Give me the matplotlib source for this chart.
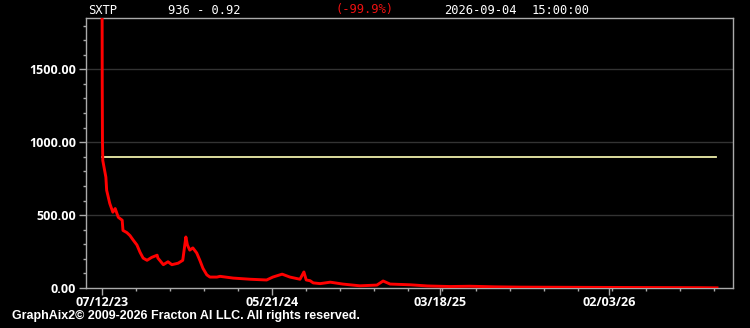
import matplotlib
matplotlib.use("Agg")
import matplotlib.pyplot as plt
from matplotlib.ticker import FixedLocator, MultipleLocator, FuncFormatter

# ---- data (x = trading-bar index from first bar) ----
bars = [0, 0.3, 0.6, 1, 5, 6, 10, 14, 17, 21, 26, 27, 32, 36, 40, 45, 49, 53, 58,
        64, 71, 72, 79, 85, 90, 98, 104, 108, 110, 113, 117, 122, 126, 130, 135,
        139, 148, 152, 169, 191, 212, 220, 232, 242, 255, 260, 263, 268, 272, 281,
        294, 310, 332, 354, 362, 371, 397, 419, 448, 474, 506, 538, 590, 641, 706,
        770, 792]
prices = [2400, 1400, 1010, 875, 760, 670, 580, 520, 545, 485, 465, 395, 380, 360,
          330, 295, 245, 205, 190, 210, 225, 205, 160, 180, 160, 170, 190, 350, 295,
          260, 275, 240, 190, 135, 90, 75, 75, 80, 68, 60, 55, 75, 95, 75, 60, 110,
          55, 50, 35, 30, 40, 27, 15, 20, 48, 27, 22, 14, 10, 12, 8, 6, 5, 4, 3, 2,
          0.92]
ref_level = 900
tick_bars = [0, 219, 435, 653]
tick_labels = ["07/12/23", "05/21/24", "03/18/25", "02/03/26"]
y_ticks = [0, 500, 1000, 1500]

W, H = 750, 328
fig = plt.figure(figsize=(W / 100, H / 100), dpi=100, facecolor="black")
ax = fig.add_axes([86 / W, (H - 288) / H, (733 - 86) / W, (288 - 18) / H])
ax.set_facecolor("black")

ax.set_xlim(-20.6, 812.6)
ax.set_ylim(0, 1852)

for y in y_ticks[1:]:
    ax.axhline(y, color="#333333", lw=1.0, zorder=1)

ax.plot([bars[0], bars[-1] - 1], [ref_level, ref_level], color="#eeeeaa", lw=1.3, zorder=2)
ax.plot(bars, prices, color="#ff0000", lw=2.1, zorder=3, solid_joinstyle="round")

for s in ax.spines.values():
    s.set_color("#aaaaaa")
    s.set_linewidth(1.0)

label_font = ["Open Sans", "DejaVu Sans"]
ax.yaxis.set_major_locator(FixedLocator(y_ticks))
ax.yaxis.set_minor_locator(MultipleLocator(100))
ax.yaxis.set_major_formatter(FuncFormatter(lambda v, p: f"{v:.2f}"))
ax.xaxis.set_major_locator(FixedLocator(tick_bars))
minor_step = (tick_bars[1] - tick_bars[0]) / 5
ax.xaxis.set_minor_locator(MultipleLocator(minor_step))
ax.set_xticklabels(tick_labels)
ax.tick_params(axis="both", which="major", colors="#aaaaaa", length=5, width=1,
               labelcolor="white", labelsize=9)
ax.tick_params(axis="both", which="minor", colors="#aaaaaa", length=2, width=1)
for lab in ax.get_xticklabels() + ax.get_yticklabels():
    lab.set_family(label_font)
    lab.set_fontweight("bold")
ax.tick_params(axis="x", pad=1)
ax.tick_params(axis="y", pad=2)

mono = ["DejaVu Sans Mono"]
ty = 1 - 10 / H
cw = 7.27
fig.text(88 / W, ty, "SXTP", color="white", fontsize=8.7, family=mono, va="center")
fig.text((88 + 11 * cw) / W, ty, "936 - 0.92", color="white", fontsize=8.7, family=mono, va="center")
fig.text((88 + 34 * cw) / W, ty, "(-99.9%)", color="#ee1111", fontsize=8.7, family=mono, va="center")
fig.text((88 + 49 * cw) / W, ty, "2026-09-04", color="white", fontsize=8.7, family=mono, va="center")
fig.text((88 + 61 * cw) / W, ty, "15:00:00", color="white", fontsize=8.7, family=mono, va="center")

fig.text(12 / W, 1 - 316 / H, "GraphAix2\u00a9 2009-2026 Fracton AI LLC. All rights reserved.",
         color="white", fontsize=9.0, fontweight="bold", fontstretch="condensed",
         family=["Liberation Sans Narrow", "Liberation Sans", "DejaVu Sans"],
         va="center", ha="left")

fig.savefig("out.png", dpi=100, facecolor="black")
